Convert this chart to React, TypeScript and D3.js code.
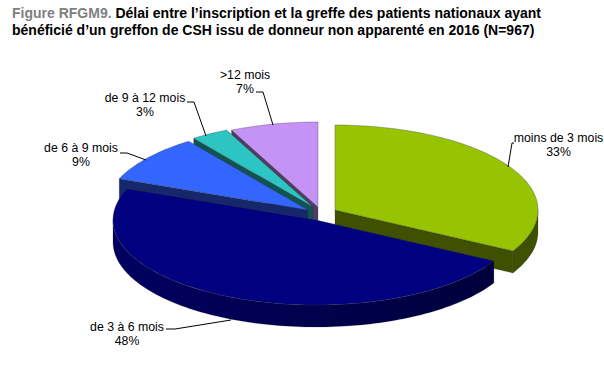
import React from "react";
import * as d3 from "d3";

// ---- data ----
const categories = ["moins de 3 mois", "de 3 à 6 mois", "de 6 à 9 mois", "de 9 à 12 mois", ">12 mois"];
const percents = [33, 48, 9, 3, 7];
const titleLead = "Figure RFGM9.";
const titleRest1 = " Délai entre l’inscription et la greffe des patients nationaux ayant";
const titleLine2 = "bénéficié d’un greffon de CSH issu de donneur non apparenté en 2016 (N=967)";

// ---- styles / layout (not data) ----
const topColors = ["#96C400", "#000080", "#3366FF", "#2DC4C4", "#C493F5"];
const wallColors = ["#3F5000", "#000060", "#14286B", "#115353", "#4F3B63"];
const wallDark = ["#3F5000", "#00003C", "#14286B", "#115353", "#4F3B63"];
const centres: [number, number][] = [[335, 210], [316, 220], [308, 210], [313, 207], [318, 207]];
const labelPos: [number, number][] = [[558.5, 138], [127, 326.5], [81, 148], [145, 98], [245, 75]];
const leaders: [number, number][][] = [
  [[508, 167], [512, 143], [514, 143]],
  [[231, 320], [175, 329], [166, 329]],
  [[146, 160], [127, 153], [120, 153]],
  [[206, 136], [194, 102], [187, 102]],
  [[273, 125], [263, 92], [256, 92]],
];
const RX = 203, RY = 85, DEPTH = 22;
const drawOrder = [4, 3, 2, 0, 1];

const slices = d3.pie<number>().sort(null).startAngle(0).endAngle(2 * Math.PI)(percents);

const pt = (c: [number, number], a: number, dy = 0): [number, number] => [
  c[0] + RX * Math.sin(a),
  c[1] - RY * Math.cos(a) + dy,
];
const line = d3.line<[number, number]>();
const arcPts = (c: [number, number], a0: number, a1: number, dy = 0) => {
  const n = Math.max(2, Math.ceil(Math.abs(a1 - a0) * 40));
  return d3.range(n + 1).map((i) => pt(c, a0 + ((a1 - a0) * i) / n, dy));
};

export default function App() {
  return (
    <svg width={604} height={367} style={{ position: "absolute", left: 0, top: 0, background: "#fff" }}
      fontFamily="'Liberation Sans', Arial, sans-serif">
      <defs>
        {percents.map((_, i) => (
          <linearGradient key={i} id={`w${i}`} x1="0" x2="1" y1="0" y2="0">
            <stop offset="0" stopColor={wallColors[i]} />
            <stop offset="1" stopColor={wallDark[i]} />
          </linearGradient>
        ))}
      </defs>
      <text x={12} y={17.5} fontSize={14} fontWeight="bold" fill="#000">
        <tspan fill="#7F7F7F">{titleLead}</tspan>
        <tspan>{titleRest1}</tspan>
      </text>
      <text x={12} y={34.5} fontSize={14} fontWeight="bold" fill="#000">{titleLine2}</text>

      {drawOrder.map((i) => {
        const s = slices[i];
        const c = centres[i];
        const a0 = s.startAngle, a1 = s.endAngle;
        const parts: React.ReactNode[] = [];
        // visible cut face: the closing edge of the first slice, the opening edge of the rear-left slices
        const cuts = i === 0 ? [a1] : i >= 2 ? [a0] : [];
        cuts.forEach((a, k) => {
          const p = pt(c, a);
          const poly: [number, number][] = [c, p, [p[0], p[1] + DEPTH], [c[0], c[1] + DEPTH]];
          parts.push(<path key={`c${k}`} d={line(poly) + "Z"} fill={wallColors[i]} stroke="#333" strokeOpacity={0.5} strokeWidth={0.5} />);
        });
        // outer wall (front half of the ellipse only)
        const w0 = Math.max(a0, Math.PI / 2), w1 = Math.min(a1, (3 * Math.PI) / 2);
        if (w1 > w0) {
          const poly = [...arcPts(c, w0, w1), ...arcPts(c, w1, w0, DEPTH)];
          parts.push(<path key="w" d={line(poly) + "Z"} fill={`url(#w${i})`} stroke="#222" strokeOpacity={0.4} strokeWidth={0.5} />);
        }
        const top = [c, ...arcPts(c, a0, a1)];
        parts.push(<path key="t" d={line(top) + "Z"} fill={topColors[i]} stroke="#333" strokeOpacity={0.55} strokeWidth={0.6} />);
        return <g key={i}>{parts}</g>;
      })}

      {leaders.map((l, i) => (
        <path key={i} d={line(l) ?? ""} fill="none" stroke="#000" strokeWidth={1} />
      ))}
      {categories.map((cat, i) => (
        <text key={cat} x={labelPos[i][0]} y={labelPos[i][1]} fontSize={12.3} textAnchor="middle" fill="#000">
          <tspan x={labelPos[i][0]} dy={4}>{cat}</tspan>
          <tspan x={labelPos[i][0]} dy={14.2}>{percents[i]}%</tspan>
        </text>
      ))}
    </svg>
  );
}
